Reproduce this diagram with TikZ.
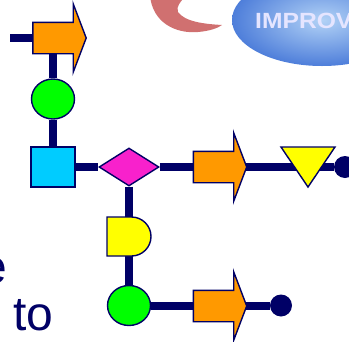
\documentclass[tikz,border=0pt]{standalone}
\usepackage{fontspec}
\setmainfont{Liberation Sans}
\usepackage{tikz}
\usetikzlibrary{calc,shapes,shapes.geometric,positioning}

\definecolor{navy}{RGB}{0,0,102}
\definecolor{orng}{RGB}{255,153,0}
\definecolor{lime}{RGB}{0,255,0}
\definecolor{aqua}{RGB}{0,204,255}
\definecolor{pink}{RGB}{248,33,204}
\definecolor{yell}{RGB}{255,255,0}
\definecolor{logored}{RGB}{208,112,112}

\pgfdeclarelayer{background}
\pgfsetlayers{background,main}

\tikzset{
  wire/.style={navy, line width=8pt},
  rim/.style={draw=navy, line width=1.4pt},
  arrbody/.style={rectangle, minimum width=40pt, minimum height=31pt, inner sep=0pt},
  ball/.style={ellipse, rim, fill=lime, minimum width=43pt, minimum height=40pt, inner sep=0pt},
  sqbox/.style={rectangle, rim, fill=aqua, minimum width=44pt, minimum height=40pt, inner sep=0pt},
  gem/.style={diamond, rim, fill=pink, minimum width=60pt, minimum height=38pt, inner sep=0pt},
  enddot/.style={circle, fill=navy, minimum size=22pt, inner sep=0pt},
}

\newcommand{\flowarr}[2]{%
  \node[arrbody] (#1) at (#2) {};
  \draw[rim, fill=orng] (#1.north west) -- (#1.north east) -- ++(0,-18.5)
    -- ($(#1.east)+(13,0)$) -- ($(#1.south east)+(0,18.5)$) -- (#1.south east)
    -- (#1.south west) -- cycle;}

\begin{document}
\begin{tikzpicture}[x=1pt,y=-1pt]
\useasboundingbox (0,0) rectangle (349,341);
\clip (0,0) rectangle (349,341);

% logo, top right
\fill[logored] (150,-5) .. controls (152,22) and (175,34) .. (198,32)
  .. controls (210,31) and (218,28) .. (222,25)
  .. controls (205,24) and (185,22) .. (178,12)
  .. controls (176,6) and (180,3) .. (186,-5) -- cycle;
\shade[inner color={rgb,255:red,178;green,210;blue,246}, outer color={rgb,255:red,78;green,126;blue,218}]
  (322,20) ellipse [x radius=90, y radius=46];
\node[anchor=base west, text=white!90!blue, inner sep=0pt, xscale=1.12] (logo) at (255,28)
  {\fontsize{22}{24}\selectfont\bfseries IMPROVE};

% text at the left
\node[anchor=base east, text=navy, inner sep=0pt] (txtE) at (7,283) {\fontsize{48}{50}\selectfont e};
\node[anchor=base west, text=navy, inner sep=0pt] (txtTo) at (13,330) {\fontsize{48}{50}\selectfont to};

\coordinate (startA) at (10,38);
\flowarr{arrTop}{53,38}
\node[ball] (ballTop) at (53,99) {};
\node[sqbox] (boxA) at (53,167) {};
\node[gem] (gemA) at (129,167) {};
\flowarr{arrMid}{213.5,167}
\coordinate (triA) at (308,167);
\draw[rim, fill=yell] ($(triA)+(-27,-20)$) -- ($(triA)+(27,-20)$) -- ($(triA)+(0,20)$) -- cycle;
\node[enddot] (dotA) at (345,167) {};
\coordinate (halfD) at (129,236.5);
\draw[rim, fill=yell] ($(halfD)+(-22,-19.5)$) -- ($(halfD)+(2.5,-19.5)$)
  arc[start angle=-90, end angle=90, radius=19.5] -- ($(halfD)+(-22,19.5)$) -- cycle;
\node[ball] (ballLow) at (129,305.5) {};
\flowarr{arrLow}{213.5,306}
\node[enddot] (dotB) at (281,305.5) {};

\begin{pgfonlayer}{background}
\draw[wire] (startA) -- (arrTop);
\draw[wire] (arrTop) -- (ballTop) -- (boxA) -- (gemA) -- (arrMid) -- (dotA);
\draw[wire] (gemA) -- (halfD) -- (ballLow) -- (ballLow -| arrLow) -- (dotB);
\end{pgfonlayer}
\end{tikzpicture}
\end{document}
